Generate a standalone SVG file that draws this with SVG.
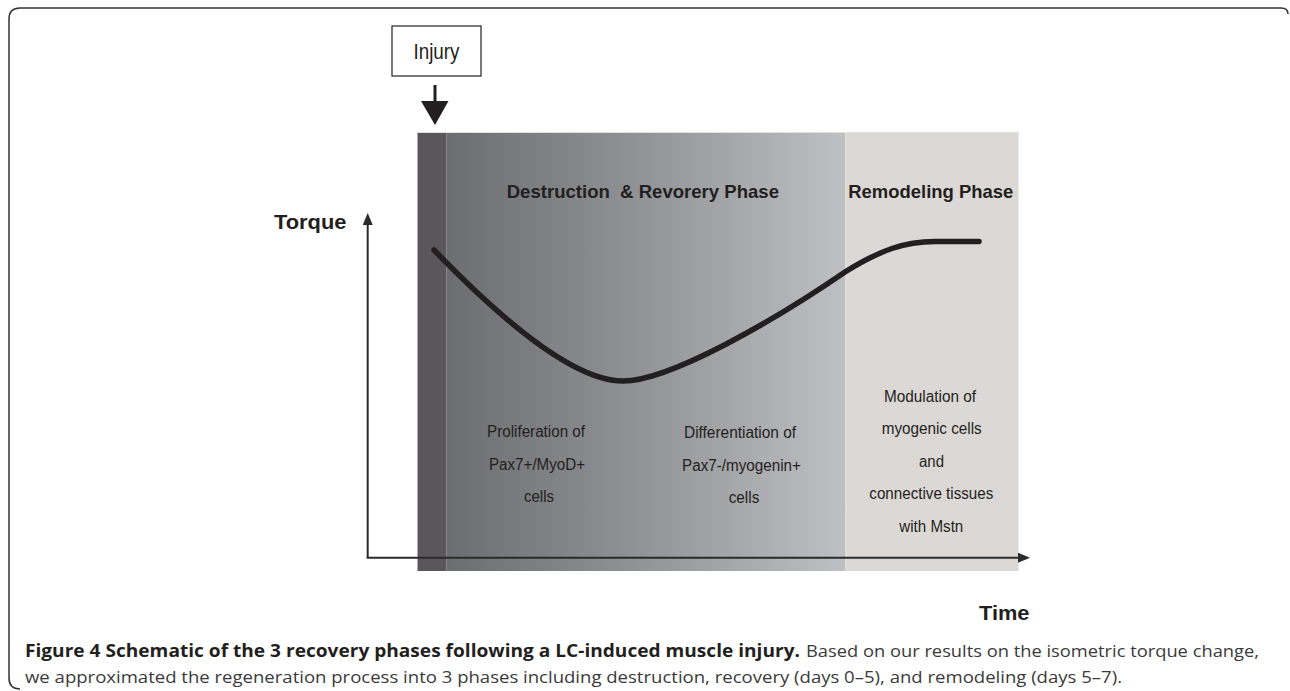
<svg xmlns="http://www.w3.org/2000/svg" width="1290" height="691" viewBox="0 0 1290 691">
  <defs>
    <linearGradient id="phaseGrad" x1="0" y1="0" x2="1" y2="0">
      <stop offset="0" stop-color="#6c6d70"/>
      <stop offset="0.5" stop-color="#939497"/>
      <stop offset="1" stop-color="#bfc0c3"/>
    </linearGradient>
    <marker id="axisHead" viewBox="0 0 12 10" refX="1" refY="5" markerWidth="12" markerHeight="10" markerUnits="userSpaceOnUse" orient="auto">
      <path d="M0,0 L12,5 L0,10 Z" fill="#2b2b2b"/>
    </marker>
    <style>
      .label { font-family: "Liberation Sans", Arial, sans-serif; fill: #231f20; }
      .bold { font-weight: bold; }
      .cell { font-size: 16px; text-anchor: middle; }
      .phase { font-size: 18.5px; font-weight: bold; }
      .axis { stroke: #2b2b2b; stroke-width: 2; fill: none; }
      .cap { font-family: "Open Sans", "Liberation Sans", sans-serif; font-size: 17px; }
    </style>
  </defs>

  <!-- outer frame -->
  <path d="M1288,14 Q1288,8 1281,8 L20,8 Q9,8 9,19 L9,678 Q9,689 20,689" fill="none" stroke="#333" stroke-width="1.5"/>

  <!-- phase backgrounds -->
  <g id="phase-bg">
    <rect x="446.5" y="132" width="399.5" height="439" fill="url(#phaseGrad)"/>
    <rect x="846" y="132" width="172.5" height="439" fill="#dcd8d5"/>
    <line x1="846" y1="132" x2="846" y2="571" stroke="#e6e3da" stroke-width="1.5"/>
    <rect x="417.5" y="132" width="29" height="439" fill="#59575a"/>
    <line x1="417.5" y1="132.5" x2="1018.5" y2="132.5" stroke="#e2e0d8" stroke-width="1"/>
  </g>

  <!-- injury node -->
  <g id="injury">
    <rect x="392" y="26" width="89" height="50" fill="#fff" stroke="#231f20" stroke-width="1.2"/>
    <text class="label" x="436.5" y="58.5" font-size="22" text-anchor="middle" textLength="46" lengthAdjust="spacingAndGlyphs">Injury</text>
  </g>

  <!-- connectors -->
  <g id="connectors">
    <line x1="435" y1="85" x2="435" y2="102" stroke="#231f20" stroke-width="3"/>
    <path d="M421,101 L448.5,101 L435,125 Z" fill="#231f20"/>
    <line class="axis" x1="367.7" y1="558" x2="367.7" y2="224" marker-end="url(#axisHead)"/>
    <line class="axis" x1="366.7" y1="557.7" x2="1019" y2="557.7" marker-end="url(#axisHead)"/>
  </g>

  <!-- torque curve -->
  <g id="curve">
    <path d="M434,250 C490,308 570,381 623,381 C670,381 775,320 845,272 C880,250 905,241.5 935,241.5 L979,241.5" fill="none" stroke="#231f20" stroke-width="5.5" stroke-linecap="round"/>
  </g>

  <!-- axis labels -->
  <g id="axis-labels">
    <text class="label bold" x="274" y="229" font-size="21" textLength="72.5" lengthAdjust="spacingAndGlyphs">Torque</text>
    <text class="label bold" x="979" y="620" font-size="21" textLength="50.5" lengthAdjust="spacingAndGlyphs">Time</text>
  </g>

  <!-- phase titles -->
  <g id="phase-destruction">
    <text class="label phase" x="506.7" y="198.3" xml:space="preserve" textLength="272.3" lengthAdjust="spacingAndGlyphs">Destruction  &amp; Revorery Phase</text>
  </g>
  <g id="phase-remodeling">
    <text class="label phase" x="848.3" y="198.3" textLength="165" lengthAdjust="spacingAndGlyphs">Remodeling Phase</text>
  </g>

  <!-- cell descriptions -->
  <g id="proliferation">
    <text class="label cell" x="536" y="437" textLength="98" lengthAdjust="spacingAndGlyphs">Proliferation of</text>
    <text class="label cell" x="537" y="470" textLength="96" lengthAdjust="spacingAndGlyphs">Pax7+/MyoD+</text>
    <text class="label cell" x="539" y="502" textLength="30" lengthAdjust="spacingAndGlyphs">cells</text>
  </g>
  <g id="differentiation">
    <text class="label cell" x="740" y="438" textLength="112" lengthAdjust="spacingAndGlyphs">Differentiation of</text>
    <text class="label cell" x="741.5" y="471" textLength="119" lengthAdjust="spacingAndGlyphs">Pax7-/myogenin+</text>
    <text class="label cell" x="744" y="503" textLength="30.6" lengthAdjust="spacingAndGlyphs">cells</text>
  </g>
  <g id="modulation">
    <text class="label cell" x="930" y="402" textLength="92" lengthAdjust="spacingAndGlyphs">Modulation of</text>
    <text class="label cell" x="931.7" y="434" textLength="100" lengthAdjust="spacingAndGlyphs">myogenic cells</text>
    <text class="label cell" x="931.5" y="467" textLength="25" lengthAdjust="spacingAndGlyphs">and</text>
    <text class="label cell" x="931.3" y="499" textLength="124" lengthAdjust="spacingAndGlyphs">connective tissues</text>
    <text class="label cell" x="931.3" y="532" textLength="64" lengthAdjust="spacingAndGlyphs">with Mstn</text>
  </g>

  <!-- caption -->
  <g id="caption">
    <text class="cap" x="25" y="657" font-weight="bold" fill="#231f20" textLength="775" lengthAdjust="spacingAndGlyphs">Figure 4 Schematic of the 3 recovery phases following a LC-induced muscle injury.</text>
    <text class="cap" x="806" y="657" fill="#3a3a3a" textLength="453" lengthAdjust="spacingAndGlyphs">Based on our results on the isometric torque change,</text>
    <text class="cap" x="25" y="683" fill="#3a3a3a" textLength="1097" lengthAdjust="spacingAndGlyphs">we approximated the regeneration process into 3 phases including destruction, recovery (days 0–5), and remodeling (days 5–7).</text>
  </g>
</svg>
